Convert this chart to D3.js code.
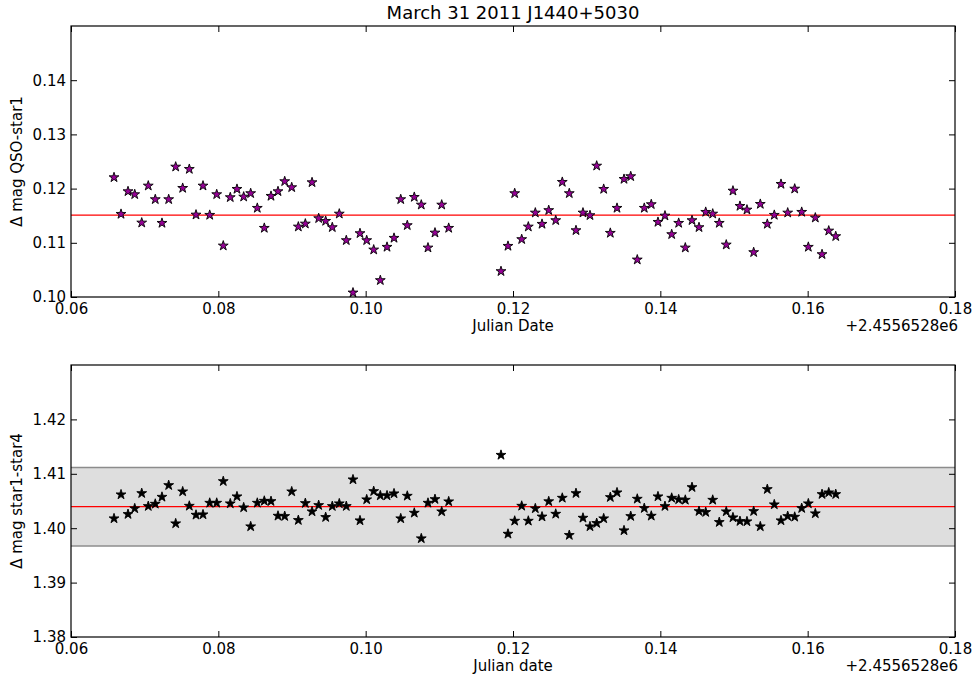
<!DOCTYPE html>
<html>
<head>
<meta charset="utf-8">
<script src="https://cdn.jsdelivr.net/npm/d3@7"></script>
<style>
  html, body { margin: 0; padding: 0; background: #fff; }
  svg { display: block; }
  text { font-family: "DejaVu Sans", sans-serif; fill: #000; }
</style>
</head>
<body>
<svg id="chart" width="979" height="682"></svg>
<script>
// ---- data ----
const title = "March 31 2011 J1440+5030";
const offsetLabel = "+2.4556528e6";
const jd = [0.06584,0.06679,0.06774,0.06865,0.06960,0.07049,0.07144,0.07235,0.07326,0.07421,
  0.07516,0.07606,0.07697,0.07792,0.07883,0.07978,0.08067,0.08162,0.08253,0.08344,
  0.08439,0.08529,0.08624,0.08715,0.08810,0.08901,0.08996,0.09086,0.09181,0.09272,
  0.09362,0.09457,0.09547,0.09642,0.09737,0.09828,0.09923,0.10014,0.10109,0.10199,
  0.10290,0.10385,0.10476,0.10565,0.10660,0.10755,0.10846,0.10941,0.11032,0.11127,
  0.11837,0.11932,0.12023,0.12118,0.12208,0.12303,0.12394,0.12485,0.12580,0.12669,
  0.12764,0.12855,0.12950,0.13045,0.13136,0.13231,0.13321,0.13412,0.13507,0.13598,
  0.13687,0.13782,0.13877,0.13968,0.14063,0.14154,0.14249,0.14339,0.14430,0.14525,
  0.14616,0.14711,0.14800,0.14895,0.14986,0.15081,0.15176,0.15267,0.15357,0.15452,
  0.15547,0.15638,0.15729,0.15824,0.15919,0.16009,0.16104,0.16195,0.16286,0.16381];
const qsoStar1 = [0.12206,0.11530,0.11948,0.11893,0.11370,0.12052,0.11801,0.11364,0.11801,0.12402,
  0.12009,0.12359,0.11517,0.12052,0.11512,0.11893,0.10946,0.11838,0.11991,0.11849,
  0.11912,0.11641,0.11272,0.11862,0.11948,0.12133,0.12022,0.11296,0.11351,0.12114,
  0.11451,0.11401,0.11285,0.11535,0.11045,0.10079,0.11174,0.11045,0.10872,0.10308,
  0.10922,0.11088,0.11801,0.11322,0.11843,0.11701,0.10909,0.11185,0.11701,0.11272,
  0.10474,0.10940,0.11912,0.11064,0.11296,0.11554,0.11346,0.11600,0.11414,0.12120,
  0.11912,0.11229,0.11554,0.11506,0.12420,0.11991,0.11180,0.11641,0.12175,0.12225,
  0.10688,0.11641,0.11709,0.11382,0.11499,0.11156,0.11364,0.10909,0.11414,0.11285,
  0.11567,0.11535,0.11364,0.10964,0.11959,0.11677,0.11609,0.10824,0.11714,0.11346,
  0.11512,0.12083,0.11554,0.11996,0.11567,0.10922,0.11462,0.10787,0.11222,0.11119];
const star1Star4 = [1.40178,1.40618,1.40257,1.40362,1.40642,1.40404,1.40446,1.40574,1.40789,1.40086,
  1.40673,1.40409,1.40244,1.40251,1.40464,1.40464,1.40862,1.40453,1.40582,1.40380,
  1.40031,1.40464,1.40501,1.40495,1.40226,1.40220,1.40673,1.40147,1.40459,1.40306,
  1.40422,1.40202,1.40404,1.40453,1.40404,1.40894,1.40141,1.40527,1.40679,1.40600,
  1.40600,1.40637,1.40178,1.40593,1.40281,1.39811,1.40464,1.40532,1.40306,1.40490,
  1.41345,1.39895,1.40134,1.40409,1.40134,1.40362,1.40211,1.40492,1.40262,1.40556,
  1.39872,1.40642,1.40189,1.40031,1.40092,1.40178,1.40569,1.40655,1.39958,1.40220,
  1.40538,1.40367,1.40226,1.40582,1.40404,1.40556,1.40527,1.40519,1.40752,1.40312,
  1.40294,1.40519,1.40110,1.40306,1.40196,1.40128,1.40123,1.40312,1.40031,1.40716,
  1.40435,1.40141,1.40220,1.40207,1.40367,1.40453,1.40270,1.40624,1.40655,1.40624];
const qsoMean = 0.1151;
const starMean = 1.40395;
const starBand = [1.39675, 1.41114];
const xTicks = [0.06, 0.08, 0.10, 0.12, 0.14, 0.16, 0.18];
const yTicksTop = [0.10, 0.11, 0.12, 0.13, 0.14];
const yTicksBottom = [1.38, 1.39, 1.40, 1.41, 1.42];

// ---- layout ----
const svg = d3.select("#chart");
const L = 71, R = 955;
const panels = [
  { top: 26, bottom: 297, domain: [0.10, 0.15], ticks: yTicksTop, y: qsoStar1,
    fill: "#960096", ylabel: "\u0394 mag QSO-star1", xlabel: "Julian Date",
    mean: qsoMean, band: null },
  { top: 365, bottom: 637, domain: [1.38, 1.43], ticks: yTicksBottom, y: star1Star4,
    fill: "#000000", ylabel: "\u0394 mag star1-star4", xlabel: "Julian date",
    mean: starMean, band: starBand }
];

const x = d3.scaleLinear().domain([0.06, 0.18]).range([L, R]);
const star = d3.symbol().type(d3.symbolStar).size(30);

svg.append("text")
  .attr("x", (L + R) / 2).attr("y", 19)
  .attr("text-anchor", "middle")
  .style("font-size", "18px")
  .text(title);

panels.forEach(p => {
  const y = d3.scaleLinear().domain(p.domain).range([p.bottom, p.top]);
  const g = svg.append("g");
  const h = p.bottom - p.top;

  if (p.band) {
    g.append("rect")
      .attr("x", L).attr("width", R - L)
      .attr("y", y(p.band[1])).attr("height", y(p.band[0]) - y(p.band[1]))
      .attr("fill", "#dedede");
    p.band.forEach(v => {
      g.append("line")
        .attr("x1", L).attr("x2", R).attr("y1", y(v)).attr("y2", y(v))
        .attr("stroke", "#8c8c8c").attr("stroke-width", 1.5);
    });
  }

  g.append("line")
    .attr("x1", L).attr("x2", R).attr("y1", y(p.mean)).attr("y2", y(p.mean))
    .attr("stroke", "#ff0000").attr("stroke-width", 1.3);

  const pts = jd.map((d, i) => ({ x: d, y: p.y[i] }));
  g.selectAll("path.pt").data(pts).join("path")
    .attr("class", "pt")
    .attr("d", star)
    .attr("transform", d => `translate(${x(d.x)},${y(d.y)})`)
    .attr("fill", p.fill)
    .attr("stroke", "#000").attr("stroke-width", 0.9);

  // axes (ticks inward on all sides)
  const fmtX = d3.format(".2f");
  const fmtY = d3.format(".2f");
  const ax = g.append("g").attr("transform", `translate(0,${p.bottom})`)
    .call(d3.axisBottom(x).tickValues(xTicks).tickFormat(fmtX).tickSize(-6).tickPadding(6));
  const axT = g.append("g").attr("transform", `translate(0,${p.top})`)
    .call(d3.axisTop(x).tickValues(xTicks).tickFormat("").tickSize(-6));
  const ay = g.append("g").attr("transform", `translate(${L},0)`)
    .call(d3.axisLeft(y).tickValues(p.ticks).tickFormat(fmtY).tickSize(-6).tickPadding(5));
  const ayR = g.append("g").attr("transform", `translate(${R},0)`)
    .call(d3.axisRight(y).tickValues(p.ticks).tickFormat("").tickSize(-6));
  [ax, axT, ay, ayR].forEach(a => {
    a.select(".domain").remove();
    a.selectAll("line").attr("stroke", "#000").attr("stroke-width", 1);
    a.selectAll("text").style("font-family", "DejaVu Sans, sans-serif").style("font-size", "15px").attr("fill", "#000");
  });

  g.append("rect")
    .attr("x", L).attr("y", p.top).attr("width", R - L).attr("height", h)
    .attr("fill", "none").attr("stroke", "#000").attr("stroke-width", 1.2);

  g.append("text")
    .attr("x", (L + R) / 2).attr("y", p.bottom + 34)
    .attr("text-anchor", "middle").style("font-size", "15px")
    .text(p.xlabel);
  g.append("text")
    .attr("x", R + 3).attr("y", p.bottom + 34)
    .attr("text-anchor", "end").style("font-size", "15px")
    .text(offsetLabel);
  g.append("text")
    .attr("transform", `translate(22,${(p.top + p.bottom) / 2}) rotate(-90)`)
    .attr("text-anchor", "middle").style("font-size", "15px")
    .text(p.ylabel);
});
</script>
</body>
</html>
